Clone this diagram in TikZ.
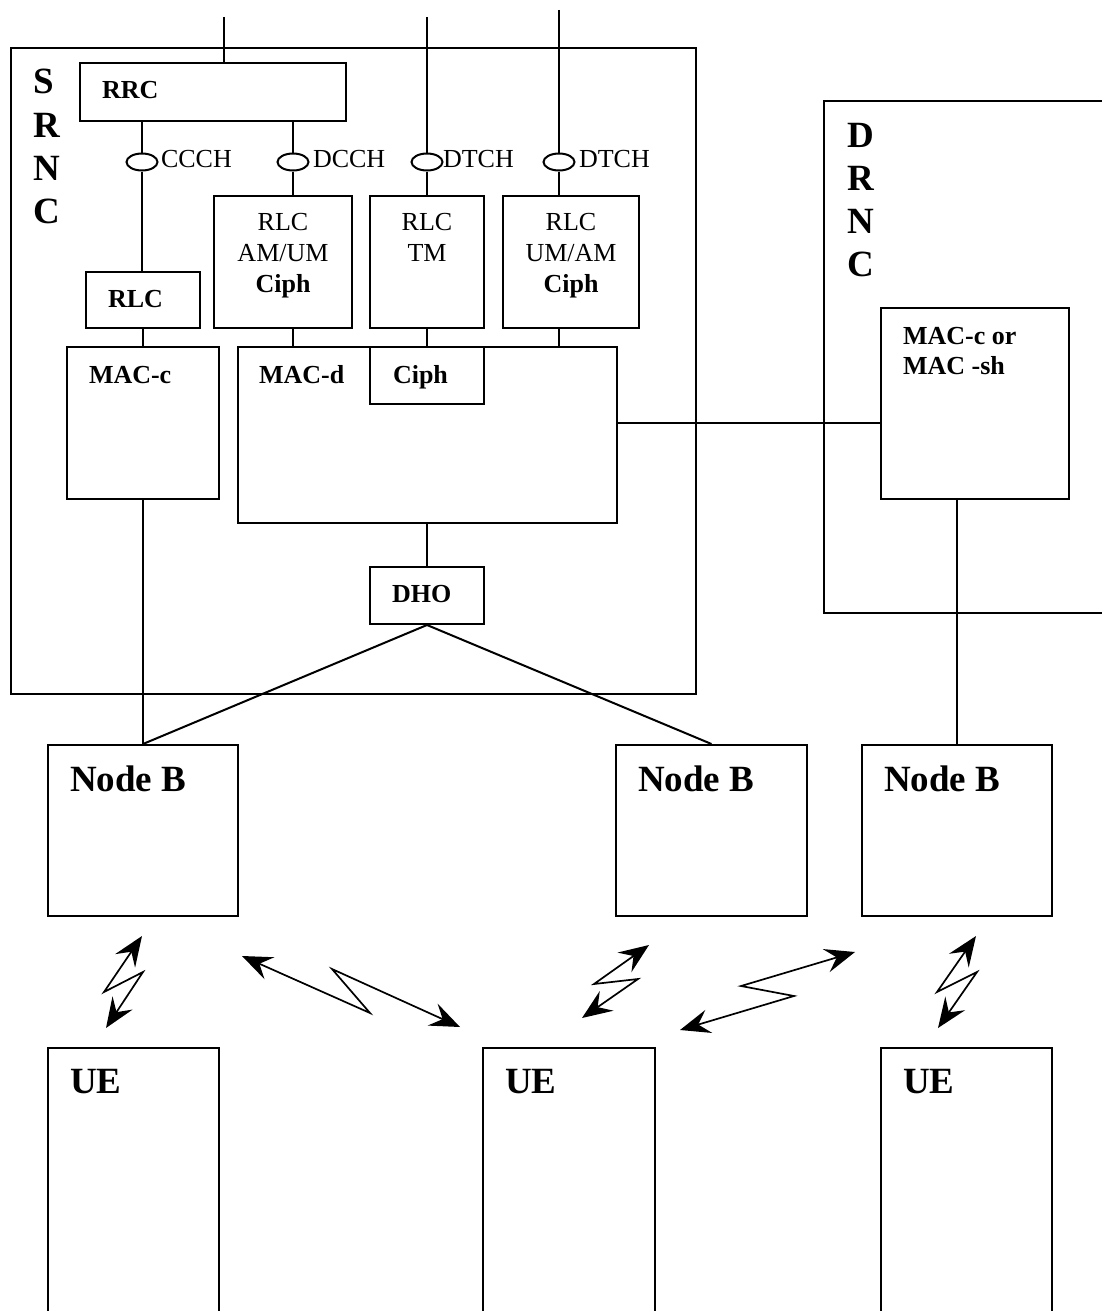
\documentclass[tikz,border=0pt]{standalone}
\usepackage{fontspec}
\setmainfont{Liberation Serif}
\usetikzlibrary{positioning,calc,fit,shapes.geometric,arrows.meta}

\tikzset{
	blk/.style={draw, inner sep=0pt},
	chan/.style={draw, ellipse, inner sep=0pt, minimum width=31pt, minimum height=17pt},
	txt/.style={inner sep=0pt, anchor=base west, font=\fontsize{26}{31}\selectfont},
	txtb/.style={txt, font=\fontsize{26}{31}\selectfont\bfseries},
	big/.style={inner sep=0pt, anchor=base west, font=\fontsize{37}{43}\selectfont\bfseries},
	radio/.style={line width=1.7pt, {Stealth[length=30pt,width=24pt,inset=11pt]}-{Stealth[length=30pt,width=24pt,inset=11pt]}}
}

\begin{document}
\begin{tikzpicture}[x=1pt,y=-1pt,line width=2pt]
	\useasboundingbox (0,0) rectangle (1102,1311);
	\begin{scope}
		% the two controllers
		\node[blk, fit={(10.7,48) (696,694)}] (srnc) {};
		\node[blk, fit={(824,101) (1130,613)}] (drnc) {};
		\foreach \l [count=\i] in {S,R,N,C}
			\node[big] (srnc\i) at (32,{94+43*(\i-1)}) {\l};
		\foreach \l [count=\i] in {D,R,N,C}
			\node[big] (drnc\i) at (846,{147+43*(\i-1)}) {\l};
		
		% RRC and RLC entities
		\node[blk, fit={(80,63) (346,121)}] (rrc) {};
		\node[blk, fit={(86,272) (200,328)}] (rlc) {};
		\node[blk, fit={(214,196) (352,328)}] (rlcam) {};
		\node[blk, fit={(370,196) (484,328)}] (rlctm) {};
		\node[blk, fit={(503,196) (639,328)}] (rlcum) {};
		
		\node[txtb] (rrctxt) at (101,99) {RRC};
		\node[txtb] (rlctxt) at (107,307) {RLC};
		\node[txt, anchor=base] (amtxt1) at (283,230) {RLC};
		\node[txt, anchor=base] (amtxt2) at (283,261) {AM/UM};
		\node[txtb, anchor=base] (amtxt3) at (283,292) {Ciph};
		\node[txt, anchor=base] (tmtxt1) at (427,230) {RLC};
		\node[txt, anchor=base] (tmtxt2) at (427,261) {TM};
		\node[txt, anchor=base] (umtxt1) at (571,230) {RLC};
		\node[txt, anchor=base] (umtxt2) at (571,261) {UM/AM};
		\node[txtb, anchor=base] (umtxt3) at (571,292) {Ciph};
		
		% logical channels
		\node[chan] (ccch) at (142,162) {};
		\node[chan] (dcch) at (293,162) {};
		\node[chan] (dtcha) at (427,162) {};
		\node[chan] (dtchb) at (559,162) {};
		\node[txt] (ccchtxt) at (160,167) {CCCH};
		\node[txt] (dcchtxt) at (312,167) {DCCH};
		\node[txt] (dtchatxt) at (442,167) {DTCH};
		\node[txt] (dtchbtxt) at (578,167) {DTCH};
		
		% MAC entities and DHO
		\node[blk, fit={(67,347) (219,499)}] (macc) {};
		\node[blk, fit={(238,347) (617,523)}] (macd) {};
		\node[blk, fit={(370,347) (484,404)}] (ciph) {};
		\node[blk, fit={(370,567) (484,624)}] (dho) {};
		\node[blk, fit={(881,308) (1069,499)}] (macsh) {};
		\node[txtb] (macctxt) at (88,383) {MAC-c};
		\node[txtb] (macdtxt) at (258,383) {MAC-d};
		\node[txtb] (ciphtxt) at (392,383) {Ciph};
		\node[txtb] (dhotxt) at (391,602) {DHO};
		\node[txtb] (macshtxt1) at (902,344) {MAC-c or};
		\node[txtb] (macshtxt2) at (902,374) {MAC -sh};
		
		% Node Bs and UEs
		\node[blk, fit={(48,745) (238,916)}] (nodeba) {};
		\node[blk, fit={(616,745) (807,916)}] (nodebb) {};
		\node[blk, fit={(862,745) (1052,916)}] (nodebc) {};
		\node[blk, fit={(48,1048) (219,1340)}] (uea) {};
		\node[blk, fit={(483,1048) (655,1340)}] (ueb) {};
		\node[blk, fit={(881,1048) (1052,1340)}] (uec) {};
		\node[big] (nodebatxt) at (69,791) {Node B};
		\node[big] (nodebbtxt) at (637,791) {Node B};
		\node[big] (nodebctxt) at (883,791) {Node B};
		\node[big] (ueatxt) at (69,1093) {UE};
		\node[big] (uebtxt) at (504,1093) {UE};
		\node[big] (uectxt) at (902,1093) {UE};
		
		% upper inputs
		\coordinate (rrcin) at (224,17);
		\coordinate (tmin) at (427,17);
		\coordinate (umin) at (559,10);
		\draw (rrcin) -- (rrcin |- rrc.north);
		\draw (tmin) -- (dtcha.north);
		\draw (umin) -- (dtchb.north);
		
		% channels down to RLC
		\draw (rrc.south -| ccch) -- (ccch.north);
		\draw (ccch.south) -- (rlc.north -| ccch);
		\draw (rrc.south -| dcch) -- (dcch.north);
		\draw (dcch.south) -- (rlcam.north -| dcch);
		\draw (dtcha.south) -- (rlctm.north);
		\draw (dtchb.south) -- (rlcum.north -| dtchb);
		
		% RLC down to MAC
		\draw (rlc.south) -- (macc.north -| rlc.south);
		\draw (rlcam.south -| dcch) -- (macd.north -| dcch);
		\draw (rlctm.south) -- (ciph.north);
		\draw (rlcum.south -| dtchb) -- (macd.north -| dtchb);
		\draw (dho.north) -- (dho.north |- macd.south);
		\coordinate (iur) at ([yshift=12pt]macd.east);
		\draw (iur) -- (iur -| macsh.west);
		
		% towards the Node Bs
		\draw (macc.south) -- (nodeba.north);
		\draw (dho.south) -- (nodeba.north);
		\draw (dho.south) -- (nodebb.north);
		\draw (nodebc.north) -- (nodebc.north |- macsh.south);
		
		% radio links
		\coordinate (ra1) at (142,936);  \coordinate (ra2) at (106,1028);
		\coordinate (rb1) at (242,956);  \coordinate (rb2) at (460,1027);
		\coordinate (rc1) at (649,945);  \coordinate (rc2) at (582,1018);
		\coordinate (rd1) at (855,952);  \coordinate (rd2) at (680,1030);
		\coordinate (re1) at (976,936);  \coordinate (re2) at (938,1028);
		\draw[radio] (ra1) -- (104,992) -- (143,972) -- (ra2);
		\draw[radio] (rb1) -- (370,1013) -- (332,969) -- (rb2);
		\draw[radio] (rc1) -- (594,984) -- (638,979) -- (rc2);
		\draw[radio] (rd1) -- (741,986) -- (794,996) -- (rd2);
		\draw[radio] (re1) -- (937,992) -- (977,972) -- (re2);
	\end{scope}
\end{tikzpicture}
\end{document}
